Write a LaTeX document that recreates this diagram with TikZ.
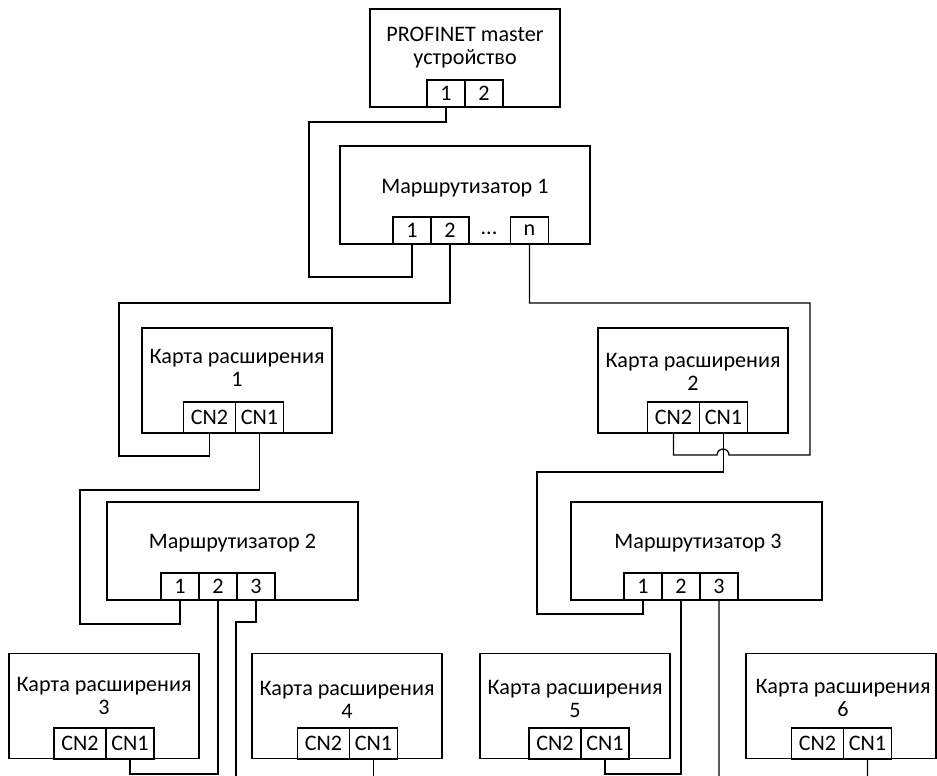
\documentclass[tikz,border=0pt]{standalone}
\usepackage{fontspec}
\setmainfont{Carlito}[Numbers=Lining]
\usetikzlibrary{positioning}

\tikzset{
  box/.style={draw, line width=0.7pt, minimum width=#1, minimum height=1.96cm, inner sep=0pt},
  card/.style={draw, line width=0.7pt, minimum width=3.8cm, minimum height=2.1cm, inner sep=0pt},
  port/.style={draw, line width=0.7pt, minimum width=0.76cm, minimum height=0.54cm, inner sep=0pt, outer sep=0pt},
  cnport/.style={draw, line width=0.7pt, minimum width=#1, minimum height=0.62cm, inner sep=0pt, outer sep=0pt},
  txt/.style={align=center},
  wire/.style={line width=0.7pt}
}

\begin{document}
\begin{tikzpicture}[x=0.02cm, y=0.02cm, font=\fontsize{12.6}{13}\selectfont]
\useasboundingbox (0,0) rectangle (937,-776);
\clip (0,0) rectangle (937,-776);

% master
\node[box=3.8cm] (master) at (465,-58) {};
\node[txt] (mastertxt) at (465,-48) {PROFINET master\\устройство};
\node[port] (mp1) at (446,-93.5) {1};
\node[port] (mp2) [right=0pt of mp1] {2};

% router 1
\node[box=5cm] (r1) at (465,-195) {};
\node[txt] (r1txt) at (465,-188) {Маршрутизатор 1};
\node[port] (r1p1) at (412,-230.5) {1};
\node[port] (r1p2) [right=0pt of r1p1] {2};
\node (r1dots) at (489,-233) {...};
\node[port] (r1pn) at (529.5,-230.5) {n};

% cards 1 and 2
\node[card] (c1) at (237,-380.5) {};
\node[txt] (c1txt) at (237,-368) {Карта расширения\\1};
\node[cnport=1.04cm] (c1cn2) at (209.5,-417.5) {CN2};
\node[cnport=0.96cm] (c1cn1) [right=0pt of c1cn2] {CN1};

\node[card] (c2) at (693,-380.5) {};
\node[txt] (c2txt) at (693,-372) {Карта расширения\\2};
\node[cnport=1.04cm] (c2cn2) at (673.5,-417.5) {CN2};
\node[cnport=0.96cm] (c2cn1) [right=0pt of c2cn2] {CN1};

% routers 2 and 3
\node[box=5.02cm] (r2) at (232.5,-551) {};
\node[txt] (r2txt) at (232.5,-543) {Маршрутизатор 2};
\node[port] (r2p1) at (180,-586.5) {1};
\node[port] (r2p2) [right=0pt of r2p1] {2};
\node[port] (r2p3) [right=0pt of r2p2] {3};

\node[box=5.02cm] (r3) at (696.5,-551) {};
\node[txt] (r3txt) at (698,-543) {Маршрутизатор 3};
\node[port] (r3p1) at (643,-586.5) {1};
\node[port] (r3p2) [right=0pt of r3p1] {2};
\node[port] (r3p3) [right=0pt of r3p2] {3};

% cards 3 to 6
\node[card] (c3) at (104,-706) {};
\node[txt] (c3txt) at (104,-696) {Карта расширения\\3};
\node[cnport=1.04cm] (c3cn2) at (80,-743.5) {CN2};
\node[cnport=0.96cm] (c3cn1) [right=0pt of c3cn2] {CN1};

\node[card] (c4) at (347,-706) {};
\node[txt] (c4txt) at (347,-700) {Карта расширения\\4};
\node[cnport=1.04cm] (c4cn2) at (323.5,-743.5) {CN2};
\node[cnport=0.96cm] (c4cn1) [right=0pt of c4cn2] {CN1};

\node[card] (c5) at (575,-706) {};
\node[txt] (c5txt) at (575,-699) {Карта расширения\\5};
\node[cnport=1.04cm] (c5cn2) at (555,-743.5) {CN2};
\node[cnport=0.96cm] (c5cn1) [right=0pt of c5cn2] {CN1};

\node[card] (c6) at (841,-706) {};
\node[txt] (c6txt) at (843,-698) {Карта расширения\\6};
\node[cnport=1.04cm] (c6cn2) at (817.5,-743.5) {CN2};
\node[cnport=0.96cm] (c6cn1) [right=0pt of c6cn2] {CN1};

% wires
\draw[wire] (mp1.south) -- ++(0,-15) -| (309,-277) -| (r1p1.south);
\draw[wire] (r1p2.south) |- (119,-303) -- (119,-456) -| (c1cn2.south);
\draw[wire] (r1pn.south) |- (810,-303) -- (810,-455) -- (729,-455)
  arc[start angle=0, end angle=180, radius=3.4pt] -| (c2cn2.south);
\draw[wire] (c1cn1.south) |- (80,-490) -- (80,-624) -| (r2p1.south);
\draw[wire] (c2cn1.south) |- (537,-472) -- (537,-614) -| (r3p1.south);
\draw[wire] (r2p2.south) -- ++(0,-174) -| (c3cn1.south);
\draw[wire] (r2p3.south) |- (236,-622) -- (236,-777) -| (c4cn1.south);
\draw[wire] (r3p2.south) -- ++(0,-174) -| (c5cn1.south);
\draw[wire] (r3p3.south) -- (719,-777) -| (c6cn1.south);
\end{tikzpicture}
\end{document}
